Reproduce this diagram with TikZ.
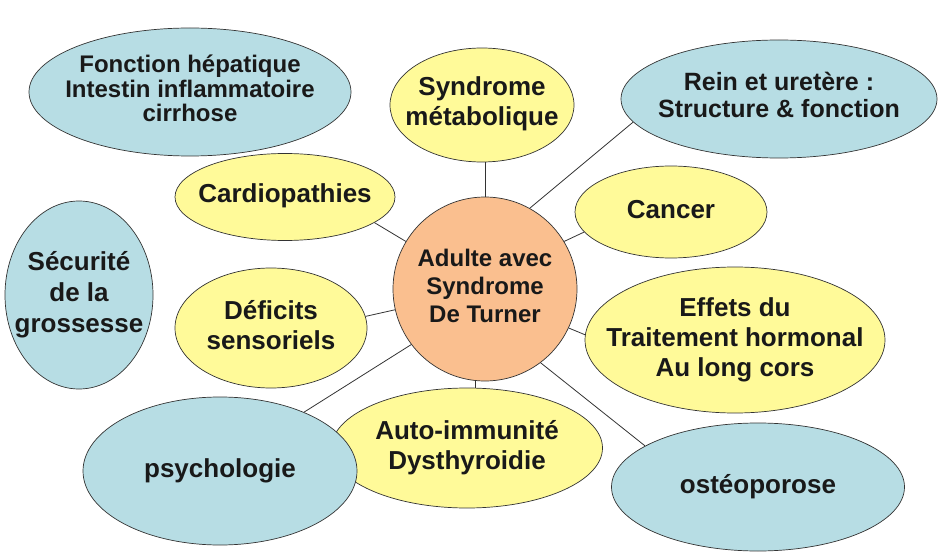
\documentclass[tikz,border=0pt]{standalone}
\usepackage{fontspec}
\setmainfont{Liberation Sans}
\usepackage{xcolor}
\usetikzlibrary{shapes.geometric}

\definecolor{bleuclair}{RGB}{183,221,228}
\definecolor{jaunepale}{RGB}{255,250,153}
\definecolor{saumon}{RGB}{250,191,143}

% chữ căn giữa, không làm ô to ra
\newcommand{\bulle}[1]{\makebox[0pt]{\begin{tabular}{@{}c@{}}#1\end{tabular}}}

\begin{document}
\begin{tikzpicture}[x=1pt, y=-1pt,
    bulle/.style={ellipse, draw=black!80, line width=0.7pt, inner sep=0pt,
        text=black!90, font=\bfseries\fontsize{26}{30}\selectfont},
    jaune/.style={bulle, fill=jaunepale},
    bleu/.style={bulle, fill=bleuclair},
    lien/.style={draw=black!80, line width=0.8pt}]
    \useasboundingbox (0,0) rectangle (948,556);

    % Nút trung tâm
    \node[bulle, fill=saumon, minimum width=184pt, minimum height=184pt,
        font=\bfseries\fontsize{24}{28}\selectfont] (hub) at (485,289)
        {\bulle{Adulte avec\\Syndrome\\De Turner}};

    % Các ô màu vàng
    \node[jaune, minimum width=184pt, minimum height=114pt] (metab) at (482,105)
        {\bulle{Syndrome\\métabolique}};
    \node[jaune, minimum width=220pt, minimum height=87pt] (cardio) at (285,197)
        {\bulle{Cardiopathies}};
    \node[jaune, minimum width=192pt, minimum height=92pt] (cancer) at (671,212)
        {\bulle{Cancer}};
    \node[jaune, minimum width=192pt, minimum height=120pt] (deficits) at (271,328)
        {\bulle{Déficits\\sensoriels}};
    \node[jaune, minimum width=300pt, minimum height=146pt] (effets) at (735,340)
        {\bulle{Effets du\\Traitement hormonal\\Au long cors}};
    \node[jaune, minimum width=271pt, minimum height=120pt] (auto) at (467,448)
        {\bulle{Auto-immunité\\Dysthyroidie}};

    % Các ô màu xanh
    \node[bleu, minimum width=322pt, minimum height=128pt,
        font=\bfseries\fontsize{24}{24.5}\selectfont] (foie) at (190,92)
        {\bulle{Fonction hépatique\\Intestin inflammatoire\\cirrhose}};
    \node[bleu, minimum width=316pt, minimum height=118pt,
        font=\bfseries\fontsize{25}{27}\selectfont] (rein) at (779,99)
        {\bulle{Rein et uretère :\\Structure \& fonction}};
    \node[bleu, minimum width=148pt, minimum height=188pt,
        font=\bfseries\fontsize{26}{31}\selectfont] (grossesse) at (79,295)
        {\bulle{Sécurité\\de la\\grossesse}};
    \node[bleu, minimum width=274pt, minimum height=148pt] (psycho) at (220,471)
        {\bulle{psychologie}};
    \node[bleu, minimum width=293pt, minimum height=128pt] (osteo) at (758,487)
        {\bulle{ostéoporose}};

    % Nối các ô với nút trung tâm
    \draw[lien] (hub.north) -- (hub.north |- metab.south);
    \draw[lien] (hub.61) -- (rein.189);
    \draw[lien] (hub.149) -- (cardio.-16);
    \draw[lien] (hub.31) -- (cancer.193);
    \draw[lien] (hub.193) -- (deficits.7);
    \draw[lien] (hub.-25) -- (effets.178);
    \draw[lien] (hub.-53) -- (osteo.160);
    \draw[lien] (hub.217) -- (psycho.35);
    \draw[lien] (hub.264) -- (hub.264 |- auto.north);
\end{tikzpicture}
\end{document}
